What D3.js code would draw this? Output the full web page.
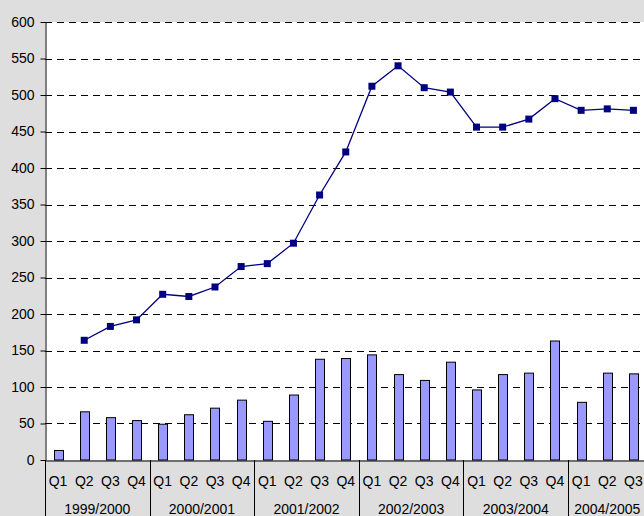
<!DOCTYPE html>
<html>
<head>
<meta charset="utf-8">
<script src="https://cdn.jsdelivr.net/npm/d3@7"></script>
<style>
  body { margin: 0; background: #dedede; }
  svg { display: block; font-family: "Liberation Sans", Arial, sans-serif; }
</style>
</head>
<body>
<div id="chart"></div>
<script>
const years = ["1999/2000", "2000/2001", "2001/2002", "2002/2003", "2003/2004", "2004/2005"];
const quarters = ["Q1", "Q2", "Q3", "Q4"];
const quartersPerYear = [4, 4, 4, 4, 4, 3];
const barValues = [13, 66, 58, 54, 49, 62, 71, 82, 53, 89, 138, 139, 144, 117, 109, 134, 96, 117, 119, 163, 79, 119, 118];
const lineValues = [null, 164, 183, 192, 227, 224, 237, 265, 269, 297, 363, 422, 512, 540, 510, 504, 456, 456, 467, 495, 479, 481, 479];
const yTicks = [0, 50, 100, 150, 200, 250, 300, 350, 400, 450, 500, 550, 600];

const W = 644, H = 516;
const plot = { left: 45, top: 22, bottom: 460, right: 646.5 };
const fontSize = 14;

// category list: year + quarter
const cats = [];
years.forEach((yr, i) => {
  for (let q = 0; q < quartersPerYear[i]; q++) cats.push({ year: yr, q: quarters[q], key: yr + " " + quarters[q] });
});
const data = cats.map((c, i) => ({ ...c, bar: barValues[i], line: lineValues[i] }));

const svg = d3.select("#chart")
  .append("svg")
  .attr("width", W)
  .attr("height", H);

svg.append("rect").attr("width", W).attr("height", H).attr("fill", "#dedede");

const x = d3.scaleBand()
  .domain(cats.map(d => d.key))
  .range([plot.left, plot.right]);

const y = d3.scaleLinear()
  .domain([0, 600])
  .range([plot.bottom, plot.top]);

// plot area
svg.append("rect")
  .attr("x", plot.left)
  .attr("y", plot.top)
  .attr("width", plot.right - plot.left)
  .attr("height", plot.bottom - plot.top)
  .attr("fill", "#fff");

// gridlines
svg.append("g")
  .selectAll("line")
  .data(yTicks.filter(d => d > 0))
  .enter()
  .append("line")
  .attr("x1", plot.left)
  .attr("x2", plot.right)
  .attr("y1", d => Math.round(y(d)) + 0.5)
  .attr("y2", d => Math.round(y(d)) + 0.5)
  .attr("stroke", "#000")
  .attr("stroke-dasharray", "7,5");

// bars
const bw = 9;
svg.append("g")
  .selectAll("rect")
  .data(data)
  .enter()
  .append("rect")
  .attr("x", d => Math.round(x(d.key) + x.bandwidth() / 2 - bw / 2) + 0.5)
  .attr("y", d => y(d.bar))
  .attr("width", bw)
  .attr("height", d => plot.bottom - y(d.bar))
  .attr("fill", "#9999ff")
  .attr("stroke", "#000")
  .attr("stroke-width", 1);

// line
const lineData = data.filter(d => d.line != null);
const line = d3.line()
  .x(d => x(d.key) + x.bandwidth() / 2)
  .y(d => y(d.line));

svg.append("path")
  .datum(lineData)
  .attr("d", line)
  .attr("fill", "none")
  .attr("stroke", "#000080")
  .attr("stroke-width", 1.3);

const ms = 7;
svg.append("g")
  .selectAll("rect")
  .data(lineData)
  .enter()
  .append("rect")
  .attr("x", d => x(d.key) + x.bandwidth() / 2 - ms / 2)
  .attr("y", d => y(d.line) - ms / 2)
  .attr("width", ms)
  .attr("height", ms)
  .attr("fill", "#000080");

// y axis
const yAxis = d3.axisLeft(y)
  .tickValues(yTicks)
  .tickSize(5)
  .tickSizeOuter(0)
  .tickPadding(6);

const gy = svg.append("g")
  .attr("transform", `translate(${plot.left + 0.5},0)`)
  .call(yAxis);
gy.selectAll("text").attr("font-size", fontSize).attr("fill", "#000").attr("font-family", "Liberation Sans, Arial, sans-serif");
gy.selectAll("line").attr("stroke", "#000");
gy.select(".domain").attr("stroke", "#000");

// extend y axis line down through the category labels
svg.append("line")
  .attr("x1", plot.left + 0.5).attr("x2", plot.left + 0.5)
  .attr("y1", plot.bottom).attr("y2", H)
  .attr("stroke", "#000");

// x axis (quarter labels)
const xAxis = d3.axisBottom(x)
  .tickFormat(k => cats.find(c => c.key === k).q)
  .tickSize(0);

const gx = svg.append("g")
  .attr("transform", `translate(0,${plot.bottom + 0.5})`)
  .call(xAxis);
gx.selectAll("text").attr("font-size", fontSize).attr("fill", "#000").attr("font-family", "Liberation Sans, Arial, sans-serif").attr("dy", "0.35em").attr("y", 21);
gx.select(".domain").attr("stroke", "#000");

// year groups
const groups = years.map(yr => {
  const keys = cats.filter(c => c.year === yr).map(c => c.key);
  const x0 = x(keys[0]);
  const x1 = x(keys[keys.length - 1]) + x.bandwidth();
  return { yr, x0, x1 };
});

svg.append("g")
  .selectAll("line")
  .data(groups)
  .enter()
  .append("line")
  .attr("x1", d => Math.round(d.x1) + 0.5)
  .attr("x2", d => Math.round(d.x1) + 0.5)
  .attr("y1", plot.bottom)
  .attr("y2", H)
  .attr("stroke", "#000");

svg.append("g")
  .selectAll("text")
  .data(groups)
  .enter()
  .append("text")
  .attr("x", d => (d.x0 + d.x1) / 2)
  .attr("y", 509)
  .attr("dy", "0.35em")
  .attr("text-anchor", "middle")
  .attr("font-size", fontSize)
  .text(d => d.yr);
</script>
</body>
</html>
